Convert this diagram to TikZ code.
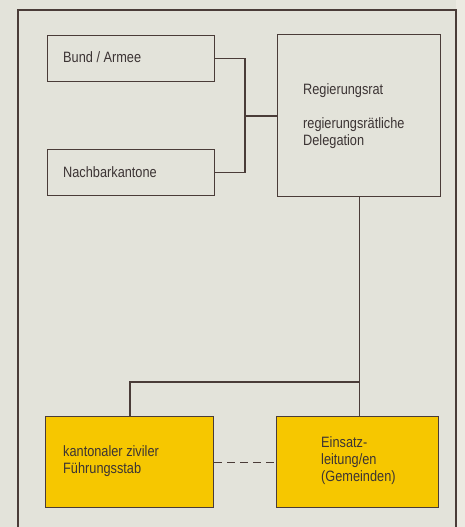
\documentclass[tikz,border=0pt]{standalone}
\usepackage{fontspec}
\setmainfont{Liberation Sans}[FakeStretch=0.85]
\definecolor{bgc}{HTML}{E3E3DA}
\definecolor{bgr}{HTML}{ECEAE2}
\definecolor{ink}{HTML}{4A3C38}
\definecolor{txt}{HTML}{3C3434}
\definecolor{yel}{HTML}{F6C700}
\tikzset{
  box/.style={draw=ink, line width=1.3pt, anchor=north west, inner sep=0pt},
  ybox/.style={box, fill=yel},
  lbl/.style={anchor=base west, inner sep=0pt, text=txt, font=\fontsize{15}{17}\selectfont, align=left},
  conn/.style={draw=ink, line width=1.2pt},
}
\begin{document}
\begin{tikzpicture}[x=1pt,y=-1pt]
\fill[bgc] (0,0) rectangle (465,527);
\fill[bgr] (456,0) rectangle (465,527);
\useasboundingbox (0,0) rectangle (465,527);
% outer frame
\coordinate (f1) at (18,530);
\coordinate (f2) at (18,10);
\coordinate (f3) at (456,10);
\coordinate (f4) at (456,530);
\draw[conn] (f1) -- (f2) -- (f3) -- (f4);
% boxes
\node[box, minimum width=167, minimum height=46] (bund) at (47,35) {};
\node[box, minimum width=167, minimum height=46] (nach) at (47,149) {};
\node[box, minimum width=163, minimum height=162] (reg) at (277,34) {};
\node[ybox, minimum width=168, minimum height=91] (kant) at (45,416) {};
\node[ybox, minimum width=162, minimum height=91] (ein) at (276,416) {};
% labels (base = baseline of last line)
\node[lbl] (tbund) at (63,63) {Bund / Armee};
\node[lbl] (tnach) at (63,177) {Nachbarkantone};
\node[lbl] (treg1) at (303,94) {Regierungsrat};
\node[lbl] (treg2) at (303,145) {regierungsrätliche\\Delegation};
\node[lbl] (tkant) at (63,473) {kantonaler ziviler\\Führungsstab};
\node[lbl] (tein) at (321,481) {Einsatz-\\leitung/en\\(Gemeinden)};
% connectors
\coordinate (j) at (245,116);
\draw[conn] (bund.east) -| (j) |- (nach.east);
\draw[conn] (j) -- (reg.west |- j);
\coordinate (h) at (130,382);
\draw[conn] (reg.south) -- (reg.south |- ein.north);
\draw[conn] (reg.south |- h) -- (h) -- (h |- kant.north);
\draw[conn, dash pattern=on 8pt off 5pt] (kant.east) -- (ein.west);
\end{tikzpicture}
\end{document}
